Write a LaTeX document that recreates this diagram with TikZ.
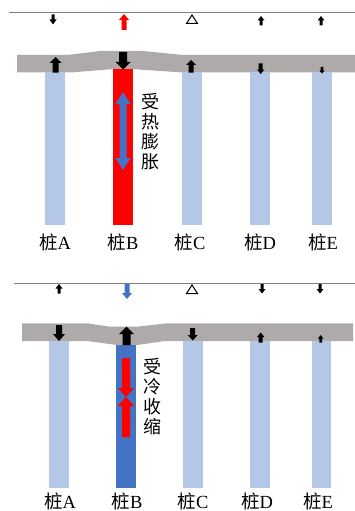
\documentclass[tikz,border=0pt]{standalone}
\usepackage{fontspec}
\setmainfont{Liberation Serif}
\newfontfamily\cjk{Noto Sans CJK SC}
\definecolor{slabgray}{HTML}{AEAAAA}
\definecolor{pileblue}{HTML}{B4C7E7}
\definecolor{darkblue}{HTML}{4472C4}
\definecolor{linegray}{HTML}{808080}
% block arrow: color, x, ytail, yheadbase, ytip, halfshaft, halfhead
\newcommand\blockarr[7]{\fill[#1] ({#2-#6},#3) -- ({#2+#6},#3) -- ({#2+#6},#4) -- ({#2+#7},#4) -- (#2,#5) -- ({#2-#7},#4) -- ({#2-#6},#4) -- cycle;}
\tikzset{
  pile/.style={fill=pileblue},
  slab/.style={fill=slabgray},
  refline/.style={draw=linegray,line width=1pt},
  tri/.style={draw=black,line width=1pt,fill=white,line join=miter},
  lbl/.style={font=\fontsize{18.5}{20}\selectfont,inner sep=0pt},
  vtxt/.style={font=\fontsize{18}{20}\selectfont\cjk,align=center,inner sep=0pt},
}
\begin{document}
\begin{tikzpicture}[x=1pt,y=-1pt]
\useasboundingbox (0,0) rectangle (355,511);
% ================= top panel =================
\draw[refline] (9,13) -- (355,13);
\blockarr{black}{53}{14.5}{19.5}{24.5}{1.5}{3.5}
\blockarr{red}{124}{30}{20}{14}{2.5}{5}
\draw[tri] (192,15) -- (197.5,23.5) -- (186.5,23.5) -- cycle;
\blockarr{black}{261}{25.5}{20.5}{16}{1.5}{3.5}
\blockarr{black}{321}{25.5}{20.5}{16}{1.5}{3.5}
% slab
\fill[slab] (17,55) -- (67,55) -- (100,51) -- (143,51) -- (183,55) -- (355,55)
  -- (355,72.3) -- (180,72.3) -- (135,69.3) -- (110,69.3) -- (73,72.3) -- (17,72.3) -- cycle;
% piles
\fill[pile] (45,72.3) rectangle (65,225);
\fill[red] (113,69.3) rectangle (133,225);
\fill[pile] (182,72.3) rectangle (202,225);
\fill[pile] (250,72.3) rectangle (270,225);
\fill[pile] (312,72.3) rectangle (332,225);
% slab arrows
\blockarr{black}{55.5}{72.5}{63}{57}{3}{6}
\blockarr{black}{123}{52}{62}{69.5}{4}{7.5}
\blockarr{black}{191}{72.5}{65}{60}{2.5}{5}
\blockarr{black}{260.7}{63.5}{69.5}{74}{2}{3.7}
\blockarr{black}{322}{67}{70.5}{73.5}{1.3}{2.7}
% double arrow in pile B
\fill[darkblue] (123,92) -- (130.5,104) -- (126.5,104) -- (126.5,158) -- (130.5,158) -- (123,170)
  -- (115.5,158) -- (119.5,158) -- (119.5,104) -- (115.5,104) -- cycle;
\node[vtxt] (t1) at (150,132) {受\\热\\膨\\胀};
\node[lbl] (a1) at (55,242) {{\cjk 桩}A};
\node[lbl] (b1) at (123,242) {{\cjk 桩}B};
\node[lbl] (c1) at (190,242) {{\cjk 桩}C};
\node[lbl] (d1) at (260,242) {{\cjk 桩}D};
\node[lbl] (e1) at (323,242) {{\cjk 桩}E};
% ================= bottom panel =================
\draw[refline] (14,283) -- (355,283);
\blockarr{black}{59}{293.5}{288.5}{284}{1.5}{3.5}
\blockarr{darkblue}{127}{284}{293}{299}{2.5}{5}
\draw[tri] (192,285) -- (197.5,293.5) -- (186.5,293.5) -- cycle;
\blockarr{black}{262}{284}{289}{293.5}{1.5}{3.5}
\blockarr{black}{320}{284}{289}{293.5}{1.5}{3.5}
% slab
\fill[slab] (22,323.3) -- (87,323.3) -- (110,326.7) -- (137,326.7) -- (167,323.3) -- (353,323.3)
  -- (353,341) -- (165,341) -- (137,345) -- (117,345) -- (87,341) -- (22,341) -- cycle;
% piles
\fill[pile] (49,341) rectangle (69,488);
\fill[darkblue] (116,345) rectangle (136,488);
\fill[pile] (183,341) rectangle (203,488);
\fill[pile] (250,341) rectangle (270,488);
\fill[pile] (312,341) rectangle (331,488);
% slab arrows
\blockarr{black}{59}{325}{334}{341}{3}{6}
\blockarr{black}{126.5}{345}{334}{326.5}{4}{7.5}
\blockarr{black}{192.7}{328}{335}{340.5}{2.5}{5}
\blockarr{black}{260.7}{342.5}{337}{332.5}{2}{3.7}
\blockarr{black}{320.7}{342.5}{338.5}{335}{1.3}{2.7}
% red arrows in pile B
\blockarr{red}{126}{358}{388}{397}{4}{8}
\blockarr{red}{126}{437}{406}{397}{4}{8}
\node[vtxt] (t2) at (152,397) {受\\冷\\收\\缩};
\node[lbl] (a2) at (60,501) {{\cjk 桩}A};
\node[lbl] (b2) at (127,501) {{\cjk 桩}B};
\node[lbl] (c2) at (193,501) {{\cjk 桩}C};
\node[lbl] (d2) at (257,501) {{\cjk 桩}D};
\node[lbl] (e2) at (318,501) {{\cjk 桩}E};
\end{tikzpicture}
\end{document}
